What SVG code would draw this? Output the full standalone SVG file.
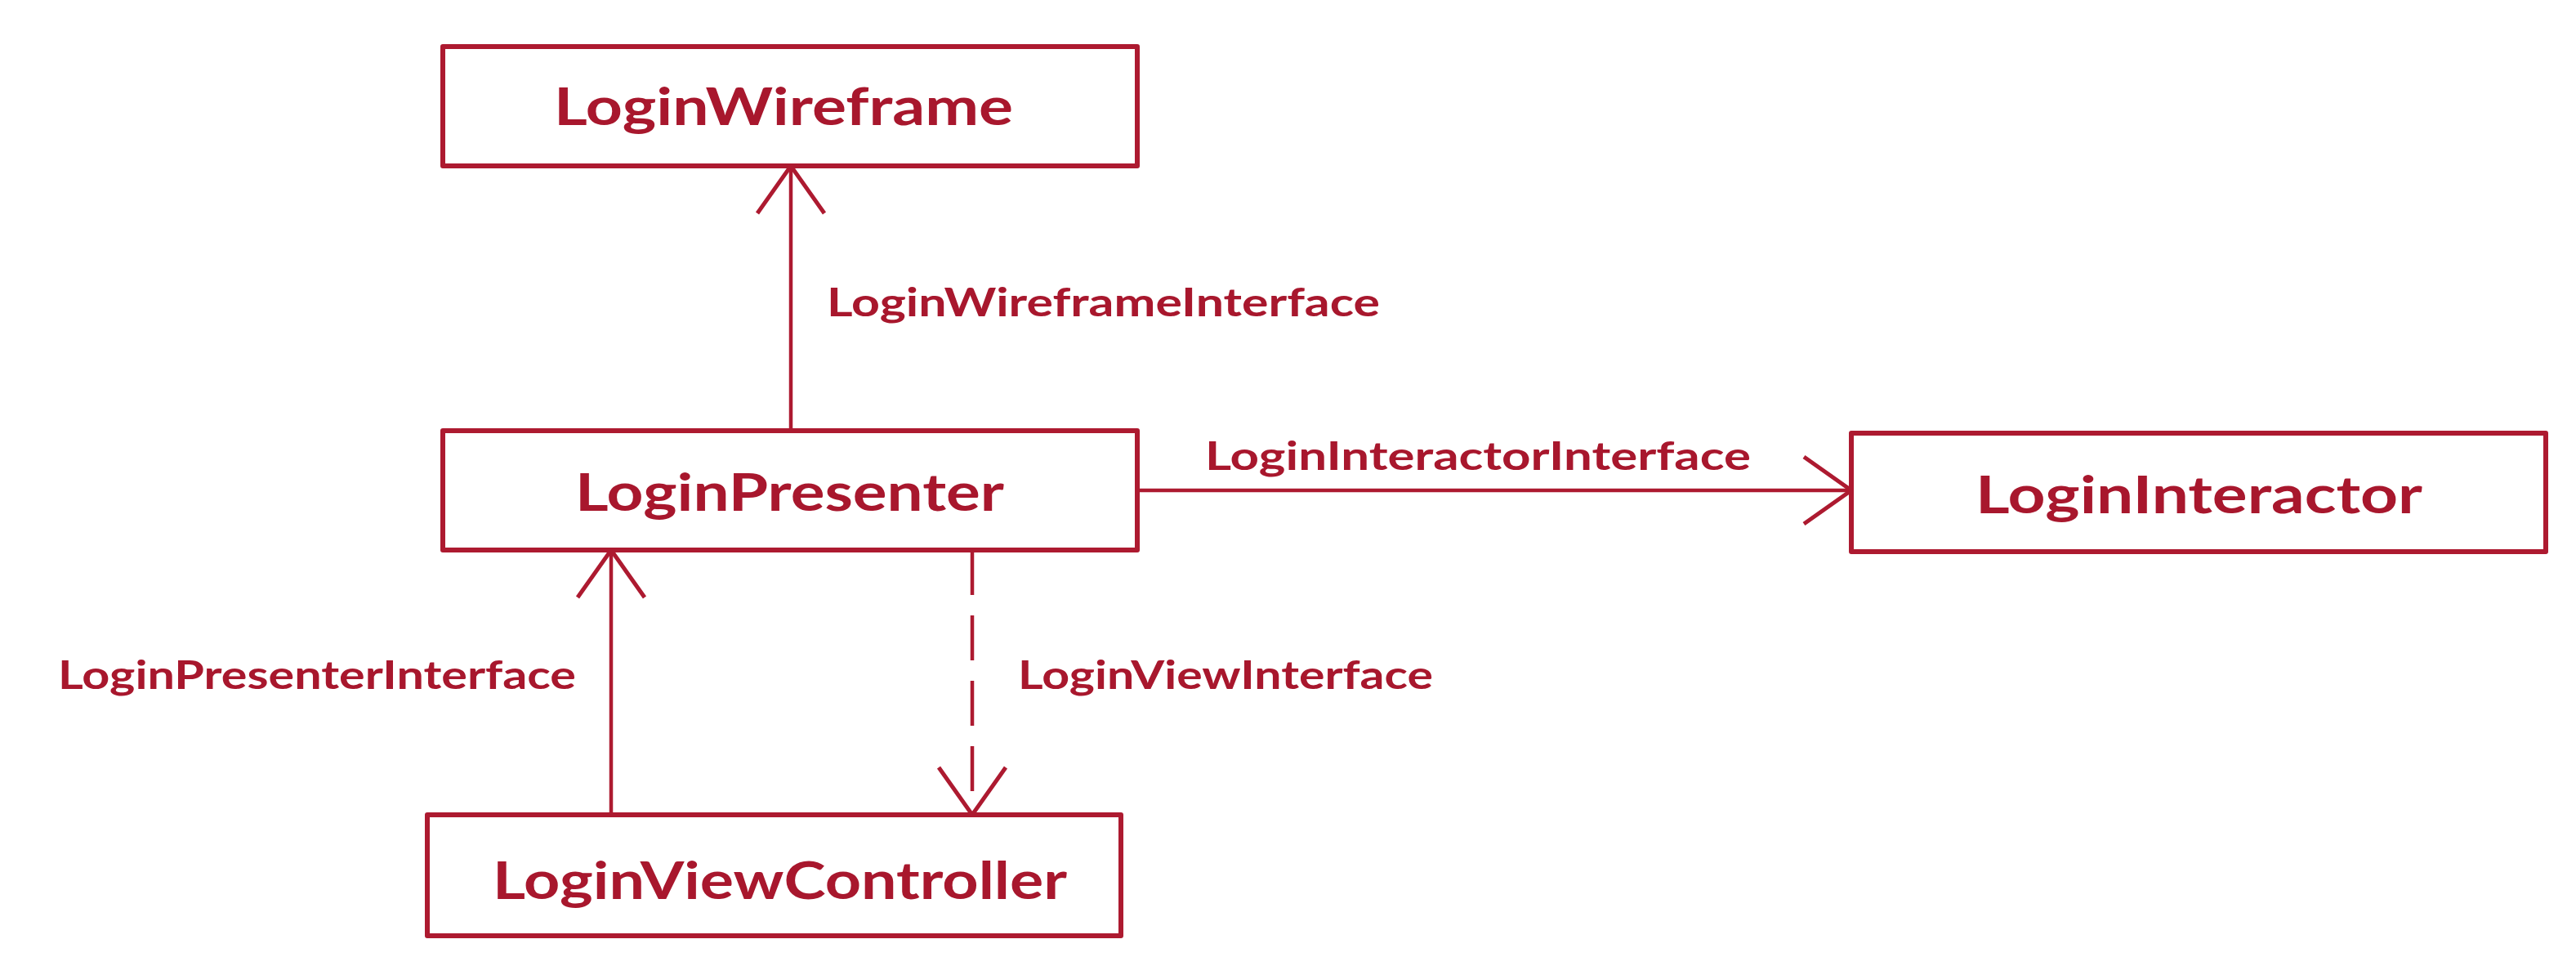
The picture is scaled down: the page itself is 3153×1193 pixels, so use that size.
<svg xmlns="http://www.w3.org/2000/svg" width="3153" height="1193" viewBox="0 0 3153 1193">
<style>
.box{fill:#fff;stroke:#ad1a30;stroke-width:6;stroke-linejoin:round}
.title{font-family:"Lato","Open Sans","DejaVu Sans",sans-serif;font-weight:700;font-size:64px;fill:#a8172d}
.lbl{font-family:"Lato","Open Sans","DejaVu Sans",sans-serif;font-weight:700;font-size:48px;fill:#a8172d}
.conn{fill:none;stroke:#ad1a30;stroke-width:4.5}
.dash{stroke-dasharray:55 25}
</style>
<defs>
<marker id="open" markerUnits="userSpaceOnUse" markerWidth="80" markerHeight="100" refX="60" refY="50" orient="auto">
<path d="M2,9 L60,50 L2,91" fill="none" stroke="#ad1a30" stroke-width="5" stroke-dasharray="none" stroke-linejoin="miter"/>
</marker>
</defs>
<rect width="3153" height="1193" fill="#fff"/>
<g id="connectors">
<line class="conn" x1="968" y1="527" x2="968" y2="203" marker-end="url(#open)"/>
<line class="conn" x1="1392" y1="600" x2="2266" y2="600" marker-end="url(#open)"/>
<line class="conn" x1="748" y1="997" x2="748" y2="673" marker-end="url(#open)"/>
<line class="conn dash" x1="1190" y1="673" x2="1190" y2="997" marker-end="url(#open)"/>
<text class="lbl" x="1012" y="387" textLength="677" lengthAdjust="spacingAndGlyphs">LoginWireframeInterface</text>
<text class="lbl" x="1475" y="575" textLength="668" lengthAdjust="spacingAndGlyphs">LoginInteractorInterface</text>
<text class="lbl" x="71" y="843" textLength="634" lengthAdjust="spacingAndGlyphs">LoginPresenterInterface</text>
<text class="lbl" x="1246" y="843" textLength="508" lengthAdjust="spacingAndGlyphs">LoginViewInterface</text>
</g>
<g id="LoginWireframe">
<rect class="box" x="542" y="57" width="850" height="146"/>
<text class="title" x="678" y="153" textLength="562" lengthAdjust="spacingAndGlyphs">LoginWireframe</text>
</g>
<g id="LoginPresenter">
<rect class="box" x="542" y="527" width="850" height="146"/>
<text class="title" x="704" y="625" textLength="525" lengthAdjust="spacingAndGlyphs">LoginPresenter</text>
</g>
<g id="LoginInteractor">
<rect class="box" x="2266" y="530" width="850" height="145"/>
<text class="title" x="2418" y="628" textLength="547" lengthAdjust="spacingAndGlyphs">LoginInteractor</text>
</g>
<g id="LoginViewController">
<rect class="box" x="523" y="997" width="849" height="148"/>
<text class="title" x="603" y="1100" textLength="703" lengthAdjust="spacingAndGlyphs">LoginViewController</text>
</g>
</svg>
